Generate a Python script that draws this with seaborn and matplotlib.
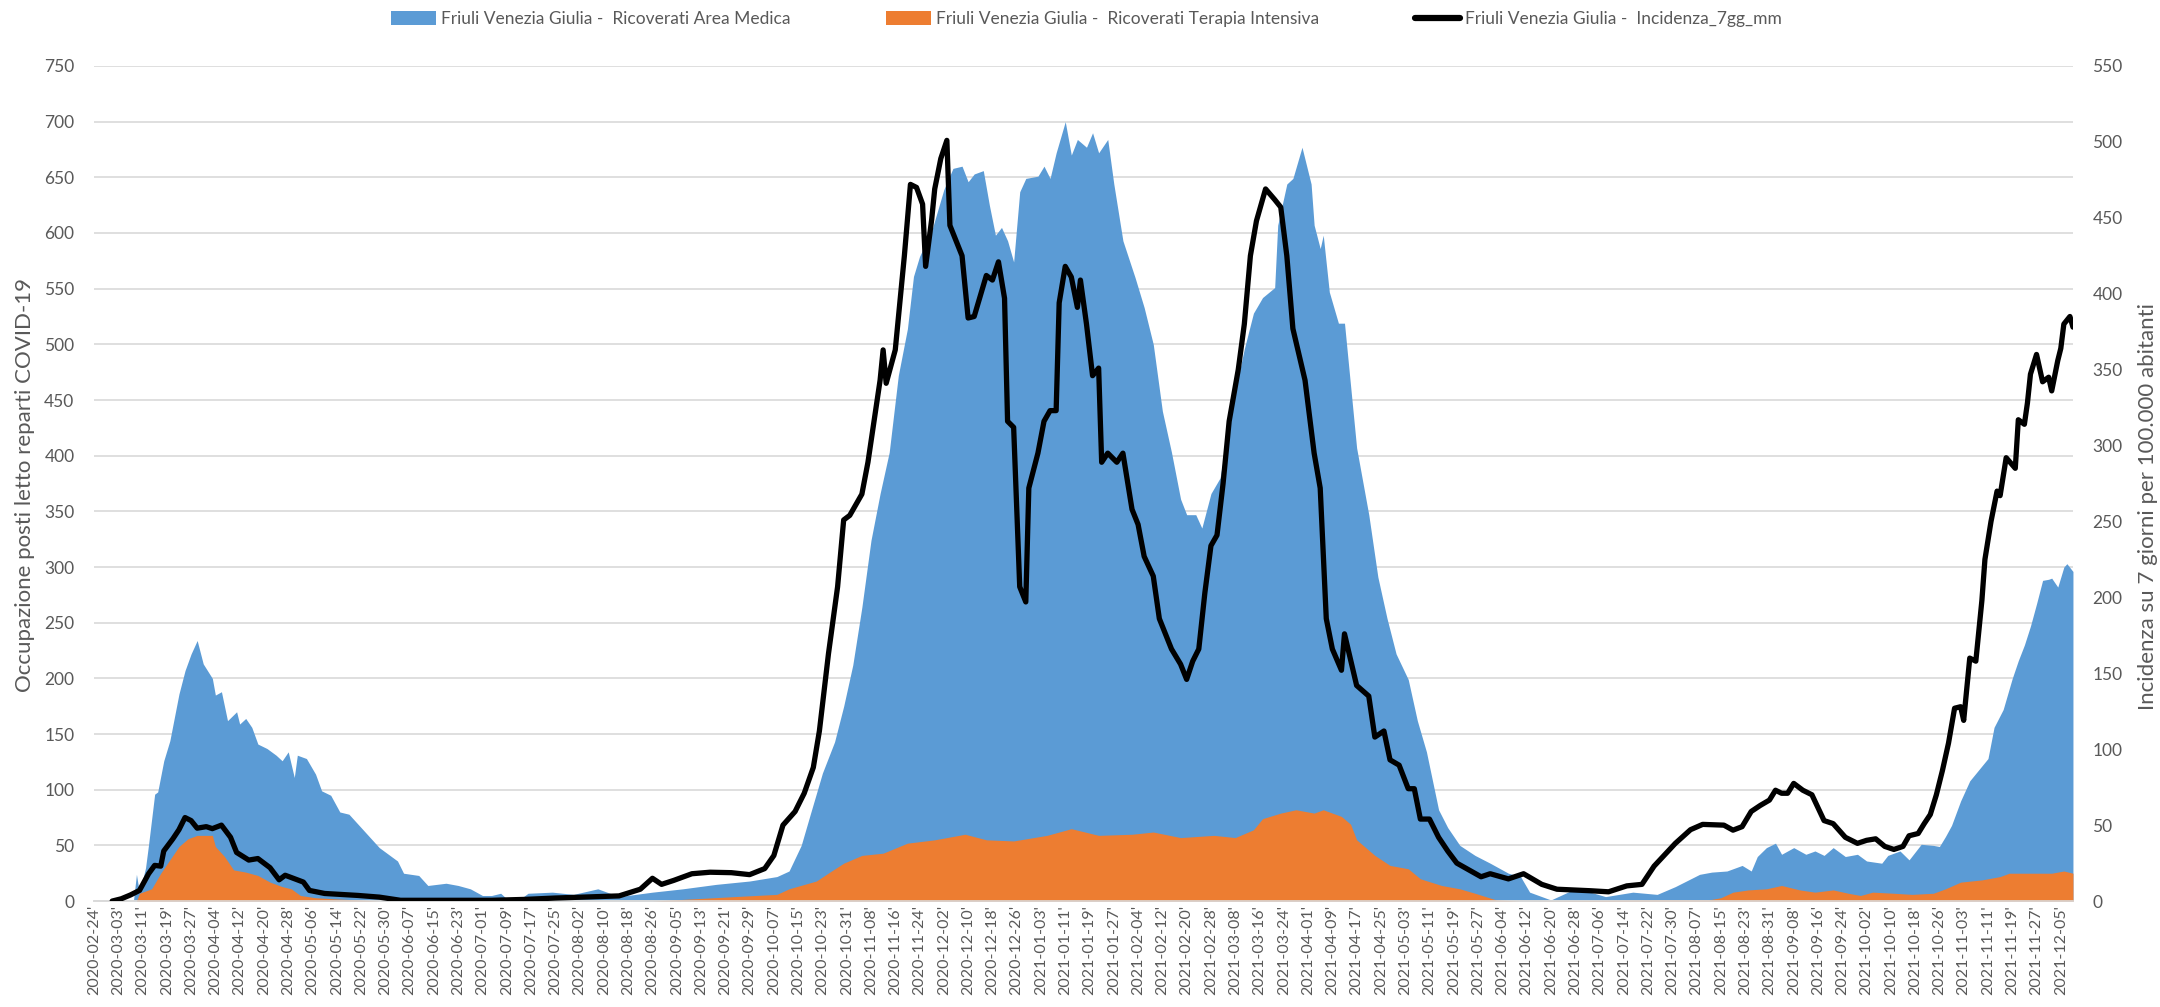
import pandas as pd
import matplotlib
matplotlib.use("Agg")
import matplotlib.pyplot as plt
import seaborn as sns
from matplotlib.patches import Patch
from matplotlib.lines import Line2D

sns.set_theme(style="white")
plt.rcParams['font.family'] = ['Lato', 'DejaVu Sans']

# --- asse delle categorie (giorni del report, due date assenti) ---
primo_giorno = "2020-02-24"
ultimo_giorno = "2021-12-09"
date_mancanti = ["2020-08-27", "2020-08-28"]

# --- Ricoverati Area Medica (letti occupati) ---
medica_date = [
    "2020-02-24", "2020-03-08", "2020-03-09", "2020-03-10", "2020-03-12", "2020-03-13", "2020-03-15", "2020-03-16",
    "2020-03-18", "2020-03-20", "2020-03-23", "2020-03-25", "2020-03-27", "2020-03-29", "2020-03-31", "2020-04-03",
    "2020-04-04", "2020-04-06", "2020-04-08", "2020-04-11", "2020-04-12", "2020-04-14", "2020-04-16", "2020-04-18",
    "2020-04-21", "2020-04-24", "2020-04-26", "2020-04-28", "2020-04-30", "2020-05-01", "2020-05-04", "2020-05-07",
    "2020-05-09", "2020-05-12", "2020-05-15", "2020-05-18", "2020-05-21", "2020-05-24", "2020-05-28", "2020-05-31",
    "2020-06-03", "2020-06-05", "2020-06-10", "2020-06-13", "2020-06-19", "2020-06-23", "2020-06-27", "2020-07-01",
    "2020-07-04", "2020-07-07", "2020-07-09", "2020-07-13", "2020-07-16", "2020-07-24", "2020-07-31", "2020-08-08",
    "2020-08-15", "2020-08-26", "2020-09-07", "2020-09-18", "2020-09-29", "2020-10-08", "2020-10-12", "2020-10-16",
    "2020-10-19", "2020-10-23", "2020-10-27", "2020-10-30", "2020-11-02", "2020-11-05", "2020-11-08", "2020-11-11",
    "2020-11-14", "2020-11-17", "2020-11-20", "2020-11-22", "2020-11-24", "2020-11-28", "2020-12-02", "2020-12-05",
    "2020-12-08", "2020-12-10", "2020-12-12", "2020-12-15", "2020-12-17", "2020-12-19", "2020-12-21", "2020-12-23",
    "2020-12-25", "2020-12-27", "2020-12-29", "2021-01-02", "2021-01-04", "2021-01-06", "2021-01-08", "2021-01-11",
    "2021-01-13", "2021-01-15", "2021-01-18", "2021-01-20", "2021-01-22", "2021-01-25", "2021-01-27", "2021-01-30",
    "2021-02-03", "2021-02-06", "2021-02-09", "2021-02-12", "2021-02-15", "2021-02-18", "2021-02-20", "2021-02-23",
    "2021-02-25", "2021-02-28", "2021-03-03", "2021-03-08", "2021-03-11", "2021-03-14", "2021-03-17", "2021-03-21",
    "2021-03-22", "2021-03-25", "2021-03-27", "2021-03-30", "2021-04-02", "2021-04-03", "2021-04-05", "2021-04-06",
    "2021-04-08", "2021-04-11", "2021-04-13", "2021-04-15", "2021-04-17", "2021-04-21", "2021-04-24", "2021-04-27",
    "2021-04-30", "2021-05-04", "2021-05-07", "2021-05-10", "2021-05-14", "2021-05-17", "2021-05-21", "2021-05-26",
    "2021-05-31", "2021-06-06", "2021-06-10", "2021-06-13", "2021-06-20", "2021-06-28", "2021-07-03", "2021-07-08",
    "2021-07-17", "2021-07-25", "2021-07-31", "2021-08-08", "2021-08-12", "2021-08-17", "2021-08-22", "2021-08-25",
    "2021-08-27", "2021-08-30", "2021-09-02", "2021-09-04", "2021-09-08", "2021-09-12", "2021-09-15", "2021-09-18",
    "2021-09-21", "2021-09-25", "2021-09-29", "2021-10-02", "2021-10-07", "2021-10-09", "2021-10-13", "2021-10-16",
    "2021-10-20", "2021-10-24", "2021-10-26", "2021-10-28", "2021-10-30", "2021-11-02", "2021-11-05", "2021-11-08",
    "2021-11-11", "2021-11-13", "2021-11-16", "2021-11-19", "2021-11-21", "2021-11-23", "2021-11-25", "2021-11-27",
    "2021-11-29", "2021-12-01", "2021-12-02", "2021-12-04", "2021-12-06", "2021-12-07", "2021-12-09",
]
medica_val = [
    0, 0, 24, 7, 30, 51, 96, 98,
    126, 144, 186, 207, 222, 234, 213, 200,
    185, 188, 162, 170, 159, 164, 156, 141,
    137, 131, 126, 134, 111, 131, 128, 114,
    99, 95, 80, 78, 69, 60, 48, 42,
    36, 25, 23, 14, 16, 14, 11, 5,
    5, 7, 2, 1, 7, 8, 6, 11,
    4, 8, 11, 15, 18, 22, 27, 50,
    78, 115, 143, 175, 212, 264, 324, 366,
    403, 472, 514, 561, 579, 602, 639, 658,
    660, 646, 653, 656, 625, 598, 605, 593,
    574, 637, 649, 651, 660, 649, 672, 700,
    670, 684, 677, 690, 672, 684, 644, 593,
    560, 533, 500, 440, 403, 361, 347, 347,
    335, 366, 380, 458, 496, 528, 542, 551,
    607, 644, 649, 677, 644, 607, 586, 598,
    547, 519, 519, 463, 407, 347, 291, 254,
    222, 199, 162, 134, 82, 66, 50, 41,
    34, 25, 22, 8, 1, 11, 8, 4,
    8, 6, 13, 24, 26, 27, 32, 27,
    40, 48, 52, 42, 48, 42, 45, 41,
    48, 40, 42, 36, 34, 41, 45, 37,
    51, 50, 49, 58, 68, 90, 108, 118,
    128, 156, 172, 200, 216, 230, 247, 267,
    288, 289, 290, 282, 300, 303, 296,
]

# --- Ricoverati Terapia Intensiva ---
intensiva_date = [
    "2020-02-24", "2020-03-09", "2020-03-10", "2020-03-14", "2020-03-17", "2020-03-20", "2020-03-23", "2020-03-26",
    "2020-03-29", "2020-04-03", "2020-04-04", "2020-04-07", "2020-04-10", "2020-04-14", "2020-04-18", "2020-04-22",
    "2020-04-26", "2020-04-29", "2020-05-02", "2020-05-07", "2020-05-13", "2020-05-21", "2020-05-28", "2020-08-26",
    "2020-09-24", "2020-10-08", "2020-10-12", "2020-10-21", "2020-10-26", "2020-10-30", "2020-11-05", "2020-11-12",
    "2020-11-20", "2020-11-29", "2020-12-09", "2020-12-16", "2020-12-25", "2021-01-05", "2021-01-13", "2021-01-22",
    "2021-02-02", "2021-02-09", "2021-02-18", "2021-03-01", "2021-03-08", "2021-03-14", "2021-03-17", "2021-03-23",
    "2021-03-28", "2021-04-03", "2021-04-06", "2021-04-12", "2021-04-15", "2021-04-17", "2021-04-23", "2021-04-28",
    "2021-05-04", "2021-05-08", "2021-05-15", "2021-05-21", "2021-05-26", "2021-06-02", "2021-06-10", "2021-07-25",
    "2021-08-11", "2021-08-15", "2021-08-19", "2021-08-24", "2021-08-30", "2021-09-04", "2021-09-10", "2021-09-15",
    "2021-09-21", "2021-09-26", "2021-09-30", "2021-10-04", "2021-10-11", "2021-10-17", "2021-10-24", "2021-10-28",
    "2021-11-02", "2021-11-09", "2021-11-15", "2021-11-18", "2021-11-26", "2021-12-02", "2021-12-06", "2021-12-09",
]
intensiva_val = [
    0, 0, 7, 11, 25, 37, 49, 56,
    59, 59, 49, 40, 28, 26, 23, 17,
    13, 11, 5, 3, 2, 1, 0, 0,
    4, 6, 11, 18, 27, 34, 41, 43,
    52, 55, 60, 55, 54, 59, 65, 59,
    60, 62, 57, 59, 57, 64, 74, 79,
    82, 79, 82, 76, 69, 55, 41, 32,
    29, 20, 14, 11, 7, 1, 0, 1,
    1, 3, 8, 10, 11, 14, 10, 8,
    10, 7, 5, 8, 7, 6, 7, 11,
    17, 19, 22, 25, 25, 25, 27, 25,
]

# --- Incidenza a 7 giorni per 100.000 abitanti (asse destro) ---
incidenza_date = [
    "2020-03-01", "2020-03-04", "2020-03-07", "2020-03-10", "2020-03-13", "2020-03-15", "2020-03-17", "2020-03-18",
    "2020-03-21", "2020-03-23", "2020-03-25", "2020-03-27", "2020-03-29", "2020-04-01", "2020-04-03", "2020-04-06",
    "2020-04-09", "2020-04-11", "2020-04-15", "2020-04-18", "2020-04-22", "2020-04-25", "2020-04-27", "2020-05-01",
    "2020-05-03", "2020-05-05", "2020-05-10", "2020-05-15", "2020-05-21", "2020-05-28", "2020-06-04", "2020-06-23",
    "2020-07-04", "2020-07-15", "2020-07-25", "2020-08-15", "2020-08-22", "2020-08-26", "2020-08-31", "2020-09-04",
    "2020-09-10", "2020-09-16", "2020-09-23", "2020-09-29", "2020-10-04", "2020-10-07", "2020-10-10", "2020-10-14",
    "2020-10-17", "2020-10-20", "2020-10-22", "2020-10-25", "2020-10-28", "2020-10-30", "2020-11-01", "2020-11-05",
    "2020-11-07", "2020-11-09", "2020-11-11", "2020-11-12", "2020-11-13", "2020-11-16", "2020-11-19", "2020-11-21",
    "2020-11-23", "2020-11-25", "2020-11-26", "2020-11-28", "2020-11-29", "2020-12-01", "2020-12-03", "2020-12-04",
    "2020-12-08", "2020-12-10", "2020-12-12", "2020-12-16", "2020-12-18", "2020-12-20", "2020-12-22", "2020-12-23",
    "2020-12-25", "2020-12-27", "2020-12-29", "2020-12-30", "2021-01-02", "2021-01-04", "2021-01-06", "2021-01-08",
    "2021-01-09", "2021-01-11", "2021-01-13", "2021-01-15", "2021-01-16", "2021-01-18", "2021-01-20", "2021-01-22",
    "2021-01-23", "2021-01-25", "2021-01-28", "2021-01-30", "2021-02-02", "2021-02-04", "2021-02-06", "2021-02-09",
    "2021-02-11", "2021-02-15", "2021-02-18", "2021-02-20", "2021-02-22", "2021-02-24", "2021-02-26", "2021-02-28",
    "2021-03-02", "2021-03-04", "2021-03-06", "2021-03-09", "2021-03-11", "2021-03-13", "2021-03-15", "2021-03-18",
    "2021-03-21", "2021-03-23", "2021-03-25", "2021-03-27", "2021-03-31", "2021-04-03", "2021-04-05", "2021-04-07",
    "2021-04-09", "2021-04-12", "2021-04-13", "2021-04-15", "2021-04-17", "2021-04-21", "2021-04-23", "2021-04-26",
    "2021-04-28", "2021-05-01", "2021-05-04", "2021-05-06", "2021-05-08", "2021-05-11", "2021-05-14", "2021-05-17",
    "2021-05-20", "2021-05-28", "2021-05-31", "2021-06-06", "2021-06-11", "2021-06-17", "2021-06-22", "2021-07-03",
    "2021-07-09", "2021-07-15", "2021-07-20", "2021-07-24", "2021-07-31", "2021-08-05", "2021-08-09", "2021-08-16",
    "2021-08-19", "2021-08-22", "2021-08-25", "2021-08-28", "2021-08-31", "2021-09-02", "2021-09-04", "2021-09-06",
    "2021-09-08", "2021-09-11", "2021-09-14", "2021-09-18", "2021-09-21", "2021-09-25", "2021-09-29", "2021-10-02",
    "2021-10-05", "2021-10-08", "2021-10-11", "2021-10-14", "2021-10-16", "2021-10-19", "2021-10-21", "2021-10-23",
    "2021-10-25", "2021-10-27", "2021-10-29", "2021-10-31", "2021-11-02", "2021-11-03", "2021-11-05", "2021-11-07",
    "2021-11-09", "2021-11-10", "2021-11-12", "2021-11-14", "2021-11-15", "2021-11-17", "2021-11-20", "2021-11-21",
    "2021-11-23", "2021-11-24", "2021-11-25", "2021-11-27", "2021-11-29", "2021-12-01", "2021-12-02", "2021-12-04",
    "2021-12-05", "2021-12-06", "2021-12-08", "2021-12-09",
]
incidenza_val = [
    0, 1.5, 4, 7, 18, 23.5, 23, 33,
    41, 47, 55, 53, 48, 49, 47.7, 50,
    42, 32, 27, 28, 22, 14, 17, 14,
    12.5, 7, 5, 4.4, 3.7, 2.6, 0.5, 0.5,
    0.5, 1.1, 2, 3.4, 7.8, 15, 11, 13.6,
    18, 19, 18.7, 17.4, 21.4, 30, 50, 59,
    71, 88, 112, 163, 207, 251, 254, 268,
    289, 316, 343, 363, 341, 363, 425, 472,
    470, 459, 418, 449, 469, 489, 501, 445,
    425, 384, 385, 412, 409, 421, 397, 316,
    312, 207, 197, 272, 295, 316, 323, 323,
    394, 418, 411, 391, 409, 380, 346, 351,
    289, 295, 289, 295, 258, 248, 227, 214,
    186, 166, 156, 146, 158, 166, 203, 234,
    241, 275, 316, 350, 380, 425, 448, 469,
    462, 457, 425, 377, 343, 295, 272, 186,
    166, 152, 176, 159, 142, 135, 108, 112,
    93, 89.5, 74, 74, 54, 54, 42, 33,
    25, 16, 18, 14.6, 18, 11, 7.8, 6.8,
    6.1, 10, 11, 23, 38, 47, 50.5, 50,
    46.7, 49, 59, 63, 66.5, 73, 71, 71,
    77.5, 73, 70, 53, 51, 42, 38, 40,
    41, 36, 34, 36, 43, 44.5, 51, 57,
    70, 86, 104, 127, 128, 119, 160, 158,
    198, 225, 250, 270, 267, 292, 285, 317,
    314, 328, 347, 360, 342, 345, 336, 356,
    364, 380, 385, 378,
]

label_medica = "Friuli Venezia Giulia -  Ricoverati Area Medica"
label_intensiva = "Friuli Venezia Giulia -  Ricoverati Terapia Intensiva"
label_incidenza = "Friuli Venezia Giulia -  Incidenza_7gg_mm"
col_medica = "#5B9BD5"
col_intensiva = "#ED7D31"
grigio = "#595959"

giorni = pd.date_range(primo_giorno, ultimo_giorno)
giorni = giorni[~giorni.isin(pd.to_datetime(date_mancanti))]
pos = {d: i for i, d in enumerate(giorni)}


def to_cat(dates):
    return [pos[pd.Timestamp(d)] for d in dates]


medica = pd.DataFrame({"x": to_cat(medica_date), "y": medica_val})
intensiva = pd.DataFrame({"x": to_cat(intensiva_date), "y": intensiva_val})
incidenza = pd.DataFrame({"x": to_cat(incidenza_date), "y": incidenza_val})

fig = plt.figure(figsize=(21.6, 10.07), dpi=100)
ax = fig.add_axes([0.0435, 0.1052, 0.9162, 0.8293])

ax.fill_between(medica["x"], medica["y"], color=col_medica, lw=0, zorder=2)
ax.fill_between(intensiva["x"], intensiva["y"], color=col_intensiva, lw=0, zorder=3)

ax.set_xlim(0, len(giorni) - 1)
ax.set_ylim(0, 750)
ax.set_yticks(range(0, 751, 50))
ax.yaxis.grid(True, color="#D9D9D9", lw=1.2)
ax.set_axisbelow(True)

tick_pos = list(range(0, len(giorni), 8))
ax.set_xticks(tick_pos)
ax.set_xticklabels([giorni[i].strftime("%Y-%m-%d") + "'" for i in tick_pos], rotation=90)
ax.tick_params(axis="x", length=0, labelsize=11.5, colors=grigio, pad=3)
ax.tick_params(axis="y", length=0, labelsize=12.5, colors=grigio, pad=14)

ax2 = ax.twinx()
sns.lineplot(data=incidenza, x="x", y="y", ax=ax2, color="black", lw=3.8, zorder=4)
ax2.set_ylim(0, 550)
ax2.set_yticks(range(0, 551, 50))
ax2.tick_params(axis="y", length=0, labelsize=12.5, colors=grigio, pad=14)
ax2.set_xlabel("")
ax2.set_ylabel("")
ax.set_xlabel("")
ax.set_ylabel("")

for a in (ax, ax2):
    for s in ("top", "left", "right"):
        a.spines[s].set_visible(False)
    a.spines["bottom"].set_color("#D9D9D9")
    a.spines["bottom"].set_linewidth(1.2)

fig.text(0.0116, 0.518, "Occupazione posti letto reparti COVID-19", rotation=90,
         ha="center", va="center", fontsize=16, color=grigio)
fig.text(0.9944, 0.497, "Incidenza su 7 giorni per 100.000 abitanti", rotation=90,
         ha="center", va="center", fontsize=16, color=grigio)

handles = [
    Patch(facecolor=col_medica, edgecolor="none"),
    Patch(facecolor=col_intensiva, edgecolor="none"),
    Line2D([0], [0], color="black", lw=4.5),
]
fig.legend(handles, [label_medica, label_intensiva, label_incidenza],
           loc="center", bbox_to_anchor=(0.503, 0.981), ncol=3, frameon=False,
           fontsize=12.5, handlelength=2.6, handleheight=0.85, handletextpad=0.3,
           columnspacing=5.5, labelcolor=grigio)

fig.savefig("out.png", dpi=100)
